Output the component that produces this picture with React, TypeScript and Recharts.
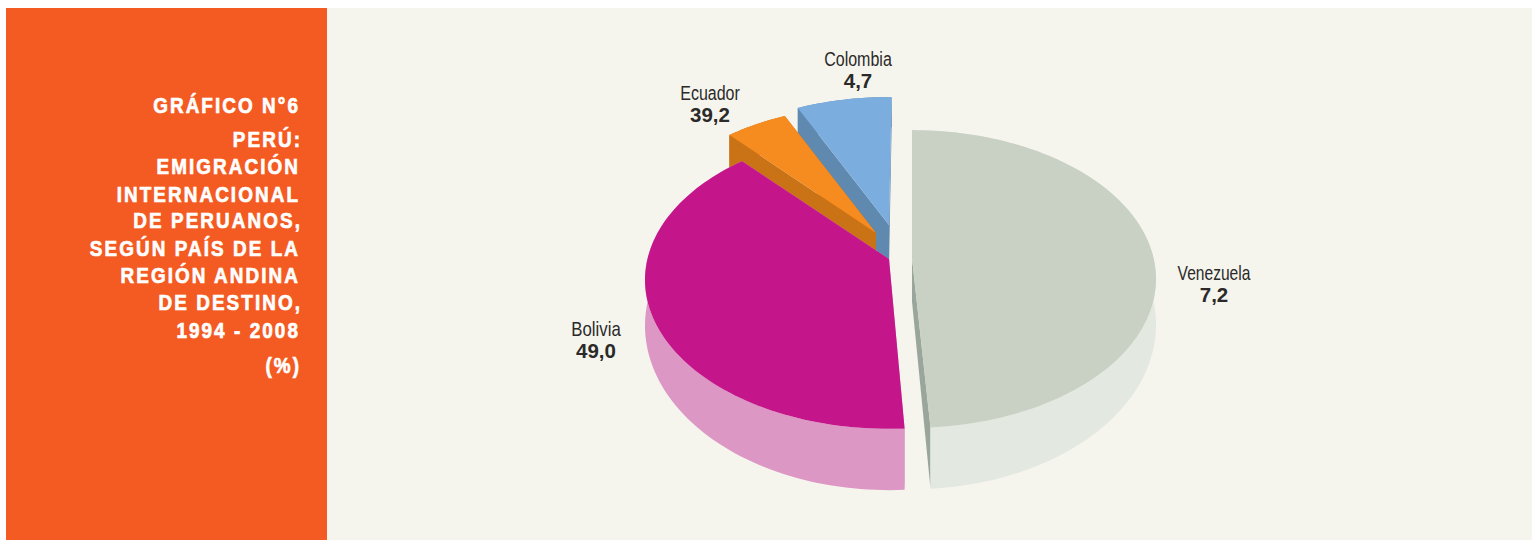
import React from "react";
import { PieChart, Pie } from "recharts";

const countries = ["Colombia", "Ecuador", "Bolivia", "Venezuela"];
// Share of each slice as drawn in the picture
const sliceShares = [7.2, 4.7, 39.2, 49.0];
// Numbers as printed beside each slice in the picture
const printedLabels = ["4,7", "39,2", "49,0", "7,2"];
const titleLines = [
  "GRÁFICO N°6",
  "PERÚ:",
  "EMIGRACIÓN",
  "INTERNACIONAL",
  "DE PERUANOS,",
  "SEGÚN PAÍS DE LA",
  "REGIÓN ANDINA",
  "DE DESTINO,",
  "1994 - 2008",
  "(%)",
];
const titleBaselines = [113, 147, 174, 202, 228, 256, 283, 310, 338, 373];
const titleRight = [300, 302, 300, 300, 302, 300, 300, 302, 300, 301];

const topColors = ["#7BAEDF", "#F68B1F", "#C4168A", "#C8D1C4"];
const wallColors = ["#6089B0", "#C97316", "#DD97C4", "#E3E8E1"];
const cutColors = ["#6089B0", "#C97316", "#DD97C4", "#9AA69B"];
const explodeX = [-11, -24, -11, 12];
const explodeY = [-35, -27, -1, -2];
const spin = [-0.7, -0.7, -0.6, 0];
const labelX = [858, 710, 596, 1214];
const labelY = [66, 100, 336, 280];
const nameStretch = [0.8, 0.8, 0.84, 0.78];

const PERSPECTIVE = 0.141;
const WIDTH_RATIO = 0.99;
const HEIGHT_RATIO = 0.598;

const rimPoint = (R: number, deg: number) => {
  const t = (deg * Math.PI) / 180;
  const c = Math.cos(t);
  const s = Math.sin(t);
  const d = 1 + PERSPECTIVE * s;
  return { x: (R * WIDTH_RATIO * c) / d, y: (R * HEIGHT_RATIO * s) / d };
};
const depthAt = (up: number) => 30 + (128 - up) * 0.105;
const pathOf = (pts: { x: number; y: number }[]) =>
  pts.map((p, i) => `${i ? "L" : "M"}${p.x.toFixed(2)},${p.y.toFixed(2)}`).join(" ") + " Z";

const Slice3D = (props: any) => {
  const { cx, cy, outerRadius, startAngle, endAngle, name } = props;
  const i = countries.indexOf(name);
  const ax = cx + explodeX[i];
  const ay = cy + explodeY[i];
  const a0 = startAngle + spin[i];
  const a1 = endAngle + spin[i];
  const n = Math.max(4, Math.ceil((a1 - a0) / 1.5));
  const top: { x: number; y: number }[] = [];
  const low: { x: number; y: number }[] = [];
  for (let k = 0; k <= n; k++) {
    const p = rimPoint(outerRadius, a0 + ((a1 - a0) * k) / n);
    top.push({ x: ax + p.x, y: ay - p.y });
    low.push({ x: ax + p.x, y: ay - p.y + depthAt(p.y) });
  }
  const apex = { x: ax, y: ay };
  const apexLow = { x: ax, y: ay + depthAt(0) };
  return (
    <g>
      <path d={pathOf([apex, top[0], low[0], apexLow])} fill={cutColors[i]} />
      <path d={pathOf([apex, top[n], low[n], apexLow])} fill={cutColors[i]} />
      <path d={pathOf([...top, ...[...low].reverse()])} fill={wallColors[i]} />
      <path d={pathOf([apex, ...top])} fill={topColors[i]} />
    </g>
  );
};

const SliceLabel = (props: any) => {
  const i = countries.indexOf(props.name);
  return (
    <g>
      <text
        transform={`translate(${labelX[i]},${labelY[i]}) scale(${nameStretch[i]},1)`}
        textAnchor="middle"
        fill="#2B2A29"
        fontFamily="'Liberation Sans'"
        fontSize={20}
      >
        {countries[i]}
      </text>
      <text
        x={labelX[i]}
        y={labelY[i] + 22}
        textAnchor="middle"
        fill="#2B2A29"
        fontFamily="'Liberation Sans'"
        fontWeight="bold"
        fontSize={20.5}
      >
        {printedLabels[i]}
      </text>
    </g>
  );
};

const tableData = countries.map((name, i) => ({ name, value: sliceShares[i], fill: topColors[i] }));

export default function App() {
  return (
    <div style={{ position: "absolute", left: 0, top: 0, width: 1532, height: 540, background: "#FFFFFF", overflow: "hidden" }}>
      <div style={{ position: "absolute", left: 327, top: 8, width: 1205, height: 532, background: "#F5F5EE" }} />
      <div style={{ position: "absolute", left: 6, top: 8, width: 321, height: 532, background: "#F45B22" }} />
      <svg width={327} height={540} style={{ position: "absolute", left: 0, top: 0 }}>
        {titleLines.map((line, i) => (
          <text
            key={line}
            transform={`translate(${titleRight[i]},${titleBaselines[i]}) scale(0.86,1)`}
            textAnchor="end"
            fill="#FFFFFF"
            stroke="#FFFFFF"
            strokeWidth={0.7}
            fontFamily="'Liberation Sans'"
            fontWeight="bold"
            fontSize={22}
            letterSpacing={2.4}
          >
            {line}
          </text>
        ))}
      </svg>
      <div style={{ position: "absolute", left: 0, top: 0 }}>
        <PieChart width={1532} height={540}>
          <Pie
            data={tableData}
            dataKey="value"
            nameKey="name"
            cx={895}
            cy={255}
            outerRadius={244}
            innerRadius={0}
            startAngle={90}
            endAngle={450}
            stroke="none"
            isAnimationActive={false}
            shape={Slice3D}
            inactiveShape={Slice3D}
            label={SliceLabel}
            labelLine={false}
          />
        </PieChart>
      </div>
    </div>
  );
}
